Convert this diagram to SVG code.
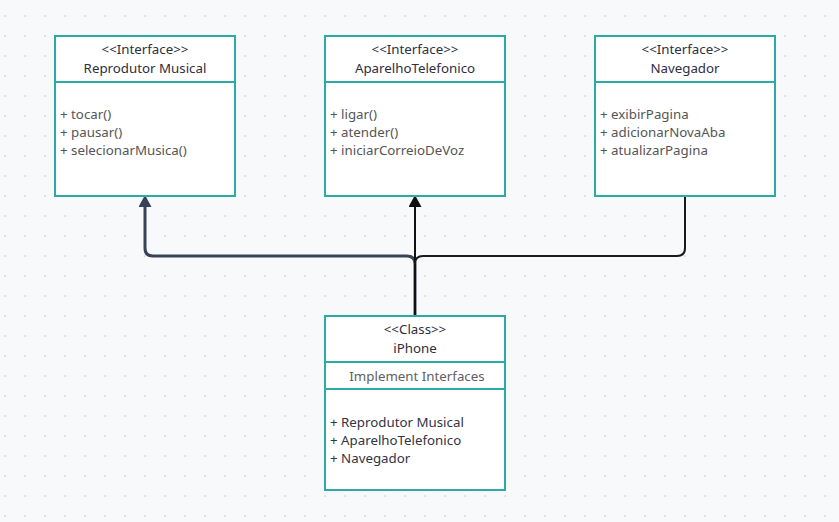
<svg xmlns="http://www.w3.org/2000/svg" width="839" height="522" viewBox="0 0 839 522">
<defs>
<pattern id="dots" x="0" y="0" width="20" height="20" patternUnits="userSpaceOnUse">
<circle cx="5" cy="16" r="1" fill="#d8dbe0"/>
</pattern>
<marker id="arrDark" markerUnits="userSpaceOnUse" markerWidth="13" markerHeight="13" viewBox="0 0 12 13" refX="1" refY="6.5" orient="auto">
<path d="M0,0 L12,6.5 L0,13 Z" fill="#384357"/>
</marker>
<marker id="arrBlack" markerUnits="userSpaceOnUse" markerWidth="13" markerHeight="13" viewBox="0 0 12 13" refX="1" refY="6.5" orient="auto">
<path d="M0,0 L12,6.5 L0,13 Z" fill="#111111"/>
</marker>
</defs>
<style>
.box{fill:#ffffff;stroke:#2aaba6;stroke-width:2}
.div{stroke:#2aaba6;stroke-width:2;fill:none}
text{font-family:"Noto Sans","Open Sans","DejaVu Sans",sans-serif;font-size:13.3px}
.hd{fill:#2e2e3e;text-anchor:middle}
.bd{fill:#555555}
.bd2{fill:#333344}
.sec{fill:#606060;text-anchor:middle}
.conn{fill:none}
</style>
<rect width="839" height="522" fill="#f8f9fb"/>
<rect width="839" height="522" fill="url(#dots)"/>

<g id="connectors" class="conn">
<path d="M415,316 L415,264 Q415,256 407,256 L153,256 Q145,256 145,248 L145,206" stroke="#384357" stroke-width="3" marker-end="url(#arrDark)"/>
<path d="M415,316 L415,206" stroke="#111111" stroke-width="2" marker-end="url(#arrBlack)"/>
<path d="M415,264 Q415,256 423,256 L677,256 Q685,256 685,248 L685,196" stroke="#1a1a1a" stroke-width="2"/>
</g>

<g id="reprodutor">
<rect class="box" x="55" y="36" width="180" height="160"/>
<line class="div" x1="55" y1="82" x2="235" y2="82"/>
<text class="hd" x="145" y="54">&lt;&lt;Interface&gt;&gt;</text>
<text class="hd" x="145" y="73">Reprodutor Musical</text>
<text class="bd" x="60" y="119">+ tocar()</text>
<text class="bd" x="60" y="137">+ pausar()</text>
<text class="bd" x="60" y="155">+ selecionarMusica()</text>
</g>

<g id="aparelho">
<rect class="box" x="325" y="36" width="180" height="160"/>
<line class="div" x1="325" y1="82" x2="505" y2="82"/>
<text class="hd" x="415" y="54">&lt;&lt;Interface&gt;&gt;</text>
<text class="hd" x="415" y="73">AparelhoTelefonico</text>
<text class="bd" x="330" y="119">+ ligar()</text>
<text class="bd" x="330" y="137">+ atender()</text>
<text class="bd" x="330" y="155">+ iniciarCorreioDeVoz</text>
</g>

<g id="navegador">
<rect class="box" x="595" y="36" width="180" height="160"/>
<line class="div" x1="595" y1="82" x2="775" y2="82"/>
<text class="hd" x="685" y="54">&lt;&lt;Interface&gt;&gt;</text>
<text class="hd" x="685" y="73">Navegador</text>
<text class="bd" x="600" y="119">+ exibirPagina</text>
<text class="bd" x="600" y="137">+ adicionarNovaAba</text>
<text class="bd" x="600" y="155">+ atualizarPagina</text>
</g>

<g id="iphone">
<rect class="box" x="325" y="316" width="180" height="174"/>
<line class="div" x1="325" y1="362" x2="505" y2="362"/>
<line class="div" x1="325" y1="389" x2="505" y2="389"/>
<text class="hd" x="415" y="334">&lt;&lt;Class&gt;&gt;</text>
<text class="hd" x="415" y="353">iPhone</text>
<text class="sec" x="417" y="381">Implement Interfaces</text>
<text class="bd2" x="330" y="427">+ Reprodutor Musical</text>
<text class="bd2" x="330" y="445">+ AparelhoTelefonico</text>
<text class="bd2" x="330" y="463">+ Navegador</text>
</g>
</svg>
